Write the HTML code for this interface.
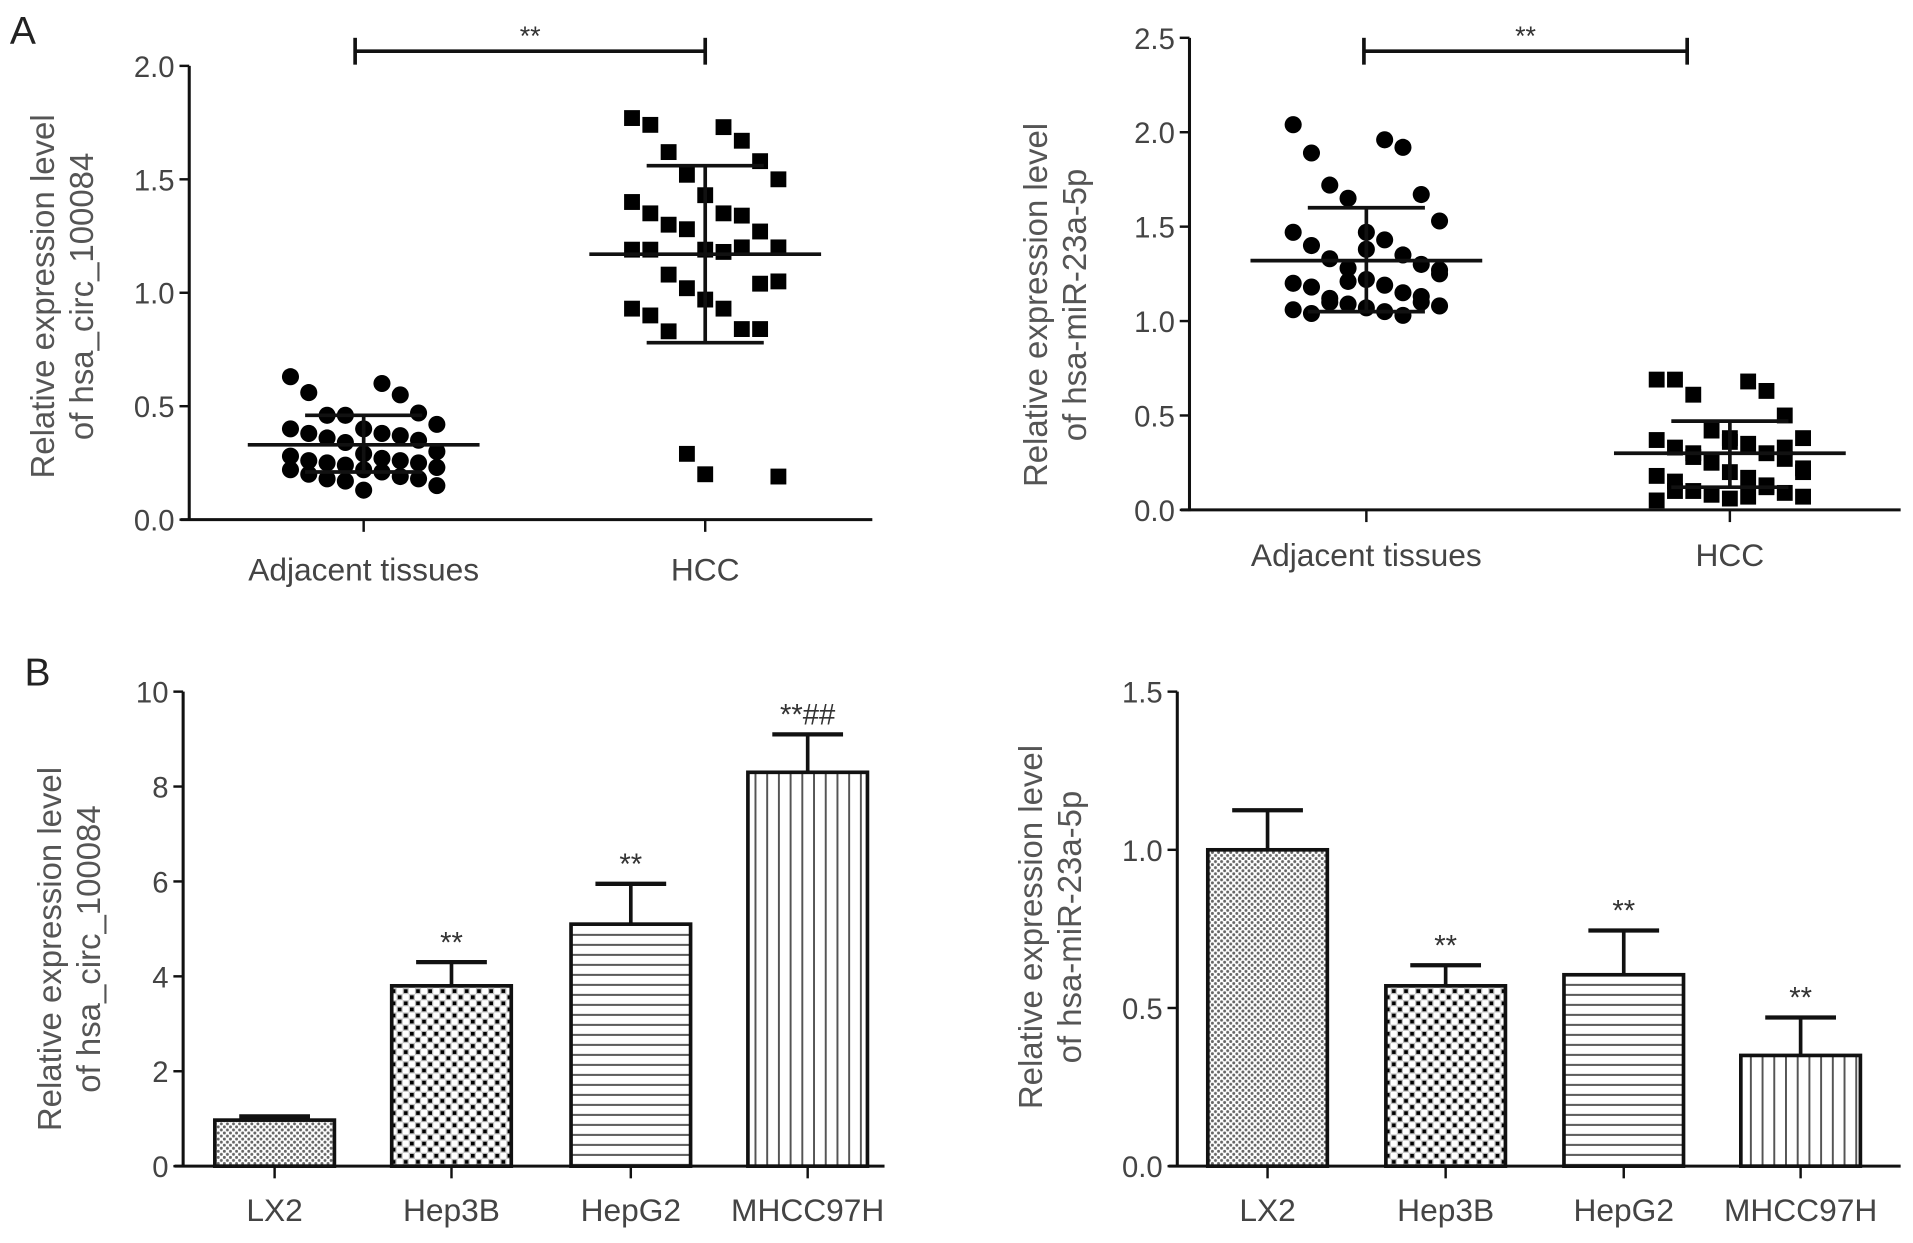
<!DOCTYPE html>
<html><head><meta charset="utf-8">
<style>
html,body{margin:0;padding:0;background:#fff;}
svg{display:block;font-family:"Liberation Sans",sans-serif;}
.tick{font-size:24px;fill:#444;}
.xtick{font-size:26px;fill:#444;}
.ytitle{font-size:27px;fill:#555;}
</style></head>
<body>
<svg id="fig" width="1913" height="1243" viewBox="0 0 1568 1019" xmlns="http://www.w3.org/2000/svg">
<defs>
<pattern id="pLX2" width="5" height="5" patternUnits="userSpaceOnUse"><rect width="5" height="5" fill="#fff"/><circle cx="1.3" cy="1.3" r="1.2" fill="#666"/><circle cx="3.8" cy="3.8" r="1.2" fill="#666"/></pattern>
<pattern id="pHep3B" width="10" height="10" patternUnits="userSpaceOnUse"><rect width="10" height="10" fill="#fff"/><rect x="0" y="0" width="5" height="5" fill="#bbb"/><rect x="5" y="5" width="5" height="5" fill="#bbb"/><rect x="1" y="1" width="3" height="3" fill="#000"/><rect x="6" y="6" width="3" height="3" fill="#000"/></pattern>
<pattern id="pHepG2" width="8" height="8.2" patternUnits="userSpaceOnUse"><rect width="8" height="8.2" fill="#fff"/><rect y="3" width="8" height="1.6" fill="#555"/></pattern>
<pattern id="pMHCC" width="9.6" height="8" patternUnits="userSpaceOnUse"><rect width="9.6" height="8" fill="#fff"/><rect x="4" width="1.6" height="8" fill="#555"/></pattern>
</defs>
<text x="8" y="36" font-size="32" fill="#222">A</text>
<text x="20" y="562" font-size="32" fill="#222">B</text>
<g id="g1"></g><g id="g2"></g><g id="g3"></g><g id="g4"></g>
</svg>
<script>
// ---- Panel A left data ----
const a1Categories = ["Adjacent tissues", "HCC"];
const a1Ticks = ["0.0","0.5","1.0","1.5","2.0"];
const a1Adjacent = [0.63,0.60,0.56,0.55,0.46,0.47,0.46,0.42,0.40,0.40,0.38,0.38,0.37,0.36,0.35,0.34,0.30,0.29,0.28,0.27,0.26,0.26,0.25,0.25,0.24,0.23,0.22,0.22,0.21,0.20,0.19,0.18,0.18,0.17,0.15,0.13];
const a1HCC = [1.77,1.73,1.74,1.67,1.62,1.58,1.52,1.50,1.43,1.40,1.35,1.35,1.34,1.30,1.27,1.28,1.20,1.19,1.19,1.18,1.19,1.20,1.08,1.04,1.02,1.05,0.97,0.93,0.93,0.90,0.84,0.83,0.84,0.29,0.19,0.20];
const a1Stats = [[0.33,0.46,0.21],[1.17,1.56,0.78]]; // mean, upper, lower
// ---- Panel A right data ----
const a2Categories = ["Adjacent tissues", "HCC"];
const a2Ticks = ["0.0","0.5","1.0","1.5","2.0","2.5"];
const a2Adjacent = [2.04,1.96,1.89,1.92,1.72,1.67,1.65,1.53,1.47,1.47,1.43,1.40,1.35,1.33,1.30,1.28,1.25,1.22,1.20,1.19,1.18,1.15,1.12,1.10,1.09,1.08,1.07,1.06,1.05,1.04,1.03,1.10,1.13,1.21,1.27,1.38];
const a2HCC = [0.69,0.68,0.69,0.63,0.61,0.50,0.42,0.38,0.38,0.37,0.35,0.33,0.30,0.28,0.27,0.25,0.22,0.20,0.18,0.17,0.15,0.12,0.10,0.09,0.08,0.07,0.06,0.05,0.07,0.10,0.13,0.30,0.33,0.25,0.20,0.36];
const a2Stats = [[1.32,1.60,1.05],[0.30,0.47,0.12]];
// ---- Panel B left data ----
const b1Categories = ["LX2","Hep3B","HepG2","MHCC97H"];
const b1Ticks = ["0","2","4","6","8","10"];
const b1Values = [0.97,3.8,5.1,8.3];
const b1Errors = [1.05,4.3,5.95,9.1];
const b1Labels = ["","**","**","**##"];
// ---- Panel B right data ----
const b2Categories = ["LX2","Hep3B","HepG2","MHCC97H"];
const b2Ticks = ["0.0","0.5","1.0","1.5"];
const b2Values = [1.0,0.57,0.605,0.35];
const b2Errors = [1.125,0.635,0.745,0.47];
const b2Labels = ["","**","**","**"];
const patterns = ["pLX2","pHep3B","pHepG2","pMHCC"];

const NS="http://www.w3.org/2000/svg";
function mk(parent,tag,attrs,text){const e=document.createElementNS(NS,tag);for(const k in attrs)e.setAttribute(k,attrs[k]);if(text!==undefined)e.textContent=text;parent.appendChild(e);return e;}
function line(p,x1,y1,x2,y2,w){return mk(p,'line',{x1,y1,x2,y2,stroke:'#111','stroke-width':w||2.5});}

function axes(g,o){
  const y=v=>o.y0-(v/o.max)*(o.y0-o.ytop);
  const ax=line(g,o.ax,o.ytop,o.ax,o.y0+1,2.5);
  
  
  const bx=line(g,o.ax-7,o.y0,o.xend,o.y0,2.5);
  
  
  o.ticks.forEach(t=>{const yy=y(parseFloat(t));line(g,o.ax-8,yy,o.ax,yy,2);
    const tx=mk(g,'text',{x:o.ax-12,y:yy+9,'text-anchor':'end',class:'tick'},t);
    
    });
  o.cats.forEach((c,i)=>{const xx=o.cx[i];line(g,xx,o.y0,xx,o.y0+10,2);
    const tx=mk(g,'text',{x:xx,y:o.y0+o.ly,'text-anchor':'middle',class:'xtick'},c);
    
    });
  const t1=mk(g,'text',{x:0,y:0,'text-anchor':'middle',class:'ytitle',transform:`translate(${o.tx1},${o.tyc}) rotate(-90)`},'Relative expression level');
  
  
  const t2=mk(g,'text',{x:0,y:0,'text-anchor':'middle',class:'ytitle',transform:`translate(${o.tx2},${o.tyc}) rotate(-90)`},o.title2);
  
  
  return y;
}

function scatter(g,o,y,groups,stats){
  groups.forEach((vals,gi)=>{
    const cx=o.cx[gi];
    vals.forEach((v,i)=>{
      const off=(((i*5)%9)-4)*15;
      let m;
      if(gi===0){m=mk(g,'circle',{cx:cx+off,cy:y(v),r:7,fill:'#000'});}
      else{m=mk(g,'rect',{x:cx+off-6.5,y:y(v)-6.5,width:13,height:13,fill:'#000'});}
      
      
    });
    const s=stats[gi];
    const mL=line(g,cx-95,y(s[0]),cx+95,y(s[0]),3);
    
    
    line(g,cx,y(s[1]),cx,y(s[2]),3);
    line(g,cx-48,y(s[1]),cx+48,y(s[1]),3);
    line(g,cx-48,y(s[2]),cx+48,y(s[2]),3);
  });
  const sb=mk(g,'g',{});
  
  
  line(sb,o.sig[0],o.sigy,o.sig[1],o.sigy,3);
  line(sb,o.sig[0],o.sigy-11,o.sig[0],o.sigy+11,3);
  line(sb,o.sig[1],o.sigy-11,o.sig[1],o.sigy+11,3);
  mk(sb,'text',{x:(o.sig[0]+o.sig[1])/2,y:o.sigy-5,'text-anchor':'middle','font-size':22,fill:'#333'},'**');
}

function bars(g,o,y,vals,errs,labels){
  vals.forEach((v,i)=>{
    const cx=o.cx[i],w=98;
    const ey=y(errs[i]);
    line(g,cx,ey,cx,y(v),3);
    const cap=line(g,cx-29,ey,cx+29,ey,3.5);
    
    
    const r=mk(g,'rect',{x:cx-w/2,y:y(v),width:w,height:o.y0-y(v),fill:`url(#${patterns[i]})`,stroke:'#111','stroke-width':3});
    
    
    if(labels[i]){const t=mk(g,'text',{x:cx,y:ey-8,'text-anchor':'middle','font-size':24,fill:'#333'},labels[i]);
      
      }
  });
}

const g1=document.getElementById('g1');


const o1={ax:155,y0:426,ytop:54,max:2.0,xend:715,ticks:a1Ticks,cats:a1Categories,cx:[298,578],ly:50,tx1:44,tx2:76,tyc:243,title2:'of hsa_circ_100084',sig:[291,578],sigy:42};
const y1=axes(g1,o1);scatter(g1,o1,y1,[a1Adjacent,a1HCC],a1Stats);

const g2=document.getElementById('g2');


const o2={ax:975,y0:418,ytop:31,max:2.5,xend:1558,ticks:a2Ticks,cats:a2Categories,cx:[1120,1418],ly:46,tx1:858,tx2:890,tyc:250,title2:'of hsa-miR-23a-5p',sig:[1118,1383],sigy:42};
const y2=axes(g2,o2);scatter(g2,o2,y2,[a2Adjacent,a2HCC],a2Stats);

const g3=document.getElementById('g3');


const o3={ax:150,y0:956,ytop:567,max:10,xend:725,ticks:b1Ticks,cats:b1Categories,cx:[225,370,517,662],ly:45,tx1:50,tx2:82,tyc:778,title2:'of hsa_circ_100084'};
const y3=axes(g3,o3);bars(g3,o3,y3,b1Values,b1Errors,b1Labels);

const g4=document.getElementById('g4');


const o4={ax:965,y0:956,ytop:567,max:1.5,xend:1558,ticks:b2Ticks,cats:b2Categories,cx:[1039,1185,1331,1476],ly:45,tx1:854,tx2:886,tyc:760,title2:'of hsa-miR-23a-5p'};
const y4=axes(g4,o4);bars(g4,o4,y4,b2Values,b2Errors,b2Labels);
</script>
</body></html>
